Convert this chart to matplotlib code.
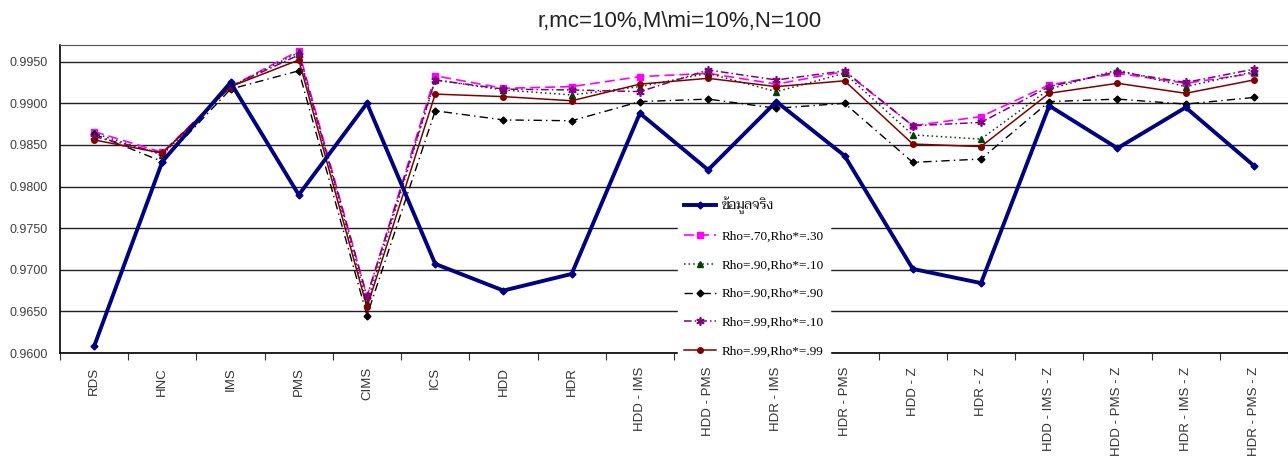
import matplotlib
matplotlib.use('Agg')
import matplotlib.pyplot as plt
from matplotlib import font_manager
import numpy as np

# categories along the x axis
methods = ['RDS', 'HNC', 'IMS', 'PMS', 'CIMS', 'ICS', 'HDD', 'HDR',
           'HDD - IMS', 'HDD - PMS', 'HDR - IMS', 'HDR - PMS',
           'HDD - Z', 'HDR - Z', 'HDD - IMS - Z', 'HDD - PMS - Z',
           'HDR - IMS - Z', 'HDR - PMS - Z']

# series
actual = [0.9608, 0.9830, 0.9925, 0.9790, 0.9900, 0.9707, 0.9675, 0.9695,
          0.9888, 0.9820, 0.9902, 0.9837, 0.9701, 0.9684, 0.9897, 0.9846,
          0.9895, 0.9825]
rho70_30 = [0.9866, 0.9841, 0.9920, 0.9963, 0.9668, 0.9933, 0.9918, 0.9920,
            0.9932, 0.9936, 0.9923, 0.9938, 0.9873, 0.9884, 0.9922, 0.9936,
            0.9924, 0.9936]
rho90_10 = [0.9864, 0.9838, 0.9920, 0.9961, 0.9660, 0.9928, 0.9916, 0.9910,
            0.9920, 0.9936, 0.9914, 0.9936, 0.9862, 0.9857, 0.9917, 0.9940,
            0.9920, 0.9938]
rho90_90 = [0.9863, 0.9830, 0.9917, 0.9939, 0.9645, 0.9891, 0.9880, 0.9879,
            0.9902, 0.9905, 0.9894, 0.9900, 0.9829, 0.9833, 0.9902, 0.9905,
            0.9899, 0.9907]
rho99_10 = [0.9860, 0.9840, 0.9920, 0.9958, 0.9668, 0.9928, 0.9917, 0.9916,
            0.9914, 0.9940, 0.9928, 0.9939, 0.9873, 0.9877, 0.9920, 0.9938,
            0.9925, 0.9941]
rho99_99 = [0.9856, 0.9840, 0.9920, 0.9952, 0.9655, 0.9911, 0.9908, 0.9903,
            0.9923, 0.9930, 0.9920, 0.9927, 0.9851, 0.9848, 0.9912, 0.9924,
            0.9912, 0.9928]

series_labels = ['ข้อมูลจริง', 'Rho=.70,Rho*=.30', 'Rho=.90,Rho*=.10',
                 'Rho=.90,Rho*=.90', 'Rho=.99,Rho*=.10', 'Rho=.99,Rho*=.99']

y_ticks = [0.9600, 0.9650, 0.9700, 0.9750, 0.9800, 0.9850, 0.9900, 0.9950]

# pick a Thai-capable font for the legend
installed = {f.name for f in font_manager.fontManager.ttflist}
thai_font = next((n for n in ['Taviraj', 'Trirong', 'Sarabun', 'Maitree', 'Kanit']
                  if n in installed), 'DejaVu Sans')
legend_families = ['Liberation Serif', thai_font, 'DejaVu Sans']

W, H = 1288, 462
fig = plt.figure(figsize=(W / 100, H / 100), dpi=100)
ax = fig.add_axes([60 / W, 1 - 353 / H, 1 - 60 / W, (353 - 45) / H])

x = np.arange(len(methods))
ax.plot(x, actual, color='#000080', lw=2.8, marker='D', ms=3.5, zorder=3,
        label=series_labels[0])
ax.plot(x, rho70_30, color='#FF00FF', lw=1.2, ls=(0, (6, 3)), marker='s', ms=4,
        label=series_labels[1])
ax.plot(x, rho90_10, color='#0b3d0b', lw=1.1, ls=(0, (1, 2)), marker='^', ms=4.5,
        mfc='#004000', mec='#004000', label=series_labels[2])
ax.plot(x, rho90_90, color='black', lw=1.0, ls=(0, (6, 3, 1, 3)), marker='D', ms=3.5,
        label=series_labels[3])
ax.plot(x, rho99_10, color='#800080', lw=1.1, ls=(0, (5, 2, 1, 2)), marker=(6, 2, 0),
        ms=6, mew=1.2, label=series_labels[4])
ax.plot(x, rho99_99, color='#800000', lw=1.1, ls='-', marker='o', ms=4,
        label=series_labels[5])

ax.set_xlim(-0.5, -0.5 + (W - 60) / 69.4)
ax.set_ylim(0.9600, 0.9970)
ax.set_yticks(y_ticks)
ax.set_yticklabels([f'{v:.4f}' for v in y_ticks], fontsize=9, color='#404040',
                   family='Liberation Sans')
ax.yaxis.grid(True, color='#222222', lw=1.0)
ax.set_axisbelow(True)
ax.tick_params(axis='y', length=0, pad=9)

# category labels sit between the boundary ticks
ax.set_xticks(np.arange(-0.5, len(methods), 1.0))
ax.set_xticklabels([])
ax.set_xticks(x, minor=True)
ax.set_xticklabels(methods, minor=True, rotation=90, fontsize=9.5,
                   family='Liberation Sans', color='#333333', va='top')
ax.tick_params(axis='x', which='minor', length=0, pad=10)
ax.tick_params(axis='x', which='major', length=5, width=0.8,
               direction='out', color='#333333')

for side in ['left', 'bottom']:
    ax.spines[side].set_color('black')
    ax.spines[side].set_linewidth(1.2)
ax.spines['right'].set_visible(False)
ax.spines['top'].set_color('#555555')

fig.text(680 / W, 1 - 22 / H, 'r,mc=10%,M\\mi=10%,N=100', fontsize=16,
         family='Liberation Sans', color='#222222', ha='center', va='center')

leg = ax.legend(loc='upper left',
                bbox_to_anchor=((678 - 60) / (W - 60), (353 - 191) / 308),
                frameon=True, fancybox=False, edgecolor='white', framealpha=1,
                prop={'family': legend_families, 'size': 9.5}, handlelength=2.4,
                handletextpad=0.45, labelspacing=1.24, borderpad=0.45,
                borderaxespad=0)
leg.set_zorder(5)

fig.savefig('out.png', dpi=100)
